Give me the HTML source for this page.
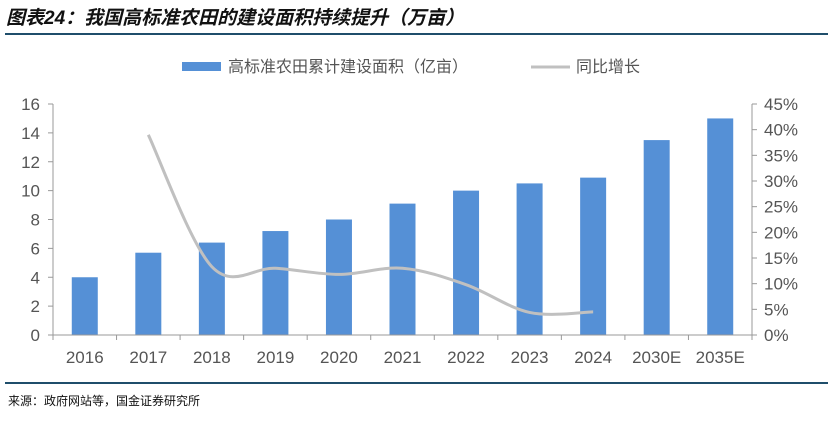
<!DOCTYPE html>
<html><head><meta charset="utf-8"><style>
body{margin:0;background:#fff;width:831px;height:416px;overflow:hidden;font-family:"Liberation Sans","Noto Sans CJK SC",sans-serif}
</style></head><body>
<svg id="c" width="831" height="416" xmlns="http://www.w3.org/2000/svg">
<text x="6" y="24" font-size="19" font-weight="bold" font-style="italic" fill="#111" font-family="Liberation Sans,Noto Sans CJK SC,sans-serif">图表24：我国高标准农田的建设面积持续提升（万亩）</text>
<line x1="5" y1="34" x2="828" y2="34" stroke="#1f4e6b" stroke-width="2"/>
<rect x="182" y="62" width="39" height="9" fill="#5590d6"/>
<text x="228" y="72" font-size="16" fill="#555">高标准农田累计建设面积（亿亩）</text>
<line x1="531" y1="67" x2="570" y2="67" stroke="#c0c0c0" stroke-width="3"/>
<text x="576" y="72" font-size="16" fill="#555">同比增长</text>
<g id="plot"></g>
<line x1="5" y1="383" x2="828" y2="383" stroke="#1f4e6b" stroke-width="2"/>
<text x="8" y="405" font-size="12" fill="#111">来源：政府网站等，国金证券研究所</text>
</svg>
<script>
const categories=["2016","2017","2018","2019","2020","2021","2022","2023","2024","2030E","2035E"];
const areaValues=[4.0,5.7,6.4,7.2,8.0,9.1,10.0,10.5,10.9,13.5,15.0];
const growthValues=[null,39,13.3,13,11.8,13,9.8,4.4,4.5,null,null];
const leftTicks=[0,2,4,6,8,10,12,14,16];
const rightTicks=[0,5,10,15,20,25,30,35,40,45];
const NS="http://www.w3.org/2000/svg";
const g=document.getElementById('plot');
const x0=53,x1=752,yB=335,yT=104;
const bw=(x1-x0)/categories.length;
const xC=i=>x0+bw*(i+0.5);
const yL=v=>yB-(v/16)*(yB-yT);
const yR=v=>yB-(v/45)*(yB-yT);
function mk(t,a){const e=document.createElementNS(NS,t);for(const k in a)e.setAttribute(k,a[k]);g.appendChild(e);return e;}
areaValues.forEach((v,i)=>{
 const r=mk('rect',{x:xC(i)-13,y:yL(v),width:26,height:yB-yL(v),fill:'#5590d6'});
 
 
});
let ax=mk('line',{x1:x0,y1:yB,x2:x1,y2:yB,stroke:'#999'});


for(let i=0;i<=categories.length;i++){const t=mk('line',{x1:x0+bw*i,y1:yB,x2:x0+bw*i,y2:yB+5,stroke:'#999'});

}
categories.forEach((c,i)=>{const t=mk('text',{x:xC(i),y:yB+28,'font-size':17,fill:'#555','text-anchor':'middle'});t.textContent=c;

});
let la=mk('line',{x1:x0,y1:yT,x2:x0,y2:yB,stroke:'#999'});


let ra=mk('line',{x1:x1,y1:yT,x2:x1,y2:yB,stroke:'#999'});


leftTicks.forEach(v=>{mk('line',{x1:x0-5,y1:yL(v),x2:x0,y2:yL(v),stroke:'#999'});
const t=mk('text',{x:x0-13,y:yL(v)+6,'font-size':17,fill:'#555','text-anchor':'end'});t.textContent=v;

});
rightTicks.forEach(v=>{mk('line',{x1:x1,y1:yR(v),x2:x1+5,y2:yR(v),stroke:'#999'});
const t=mk('text',{x:x1+12,y:yR(v)+6,'font-size':17,fill:'#555'});t.textContent=v+'%';

});
const pts=[];growthValues.forEach((v,i)=>{if(v!==null)pts.push([xC(i),yR(v)]);});
let d='M'+pts[0][0]+','+pts[0][1];
for(let i=0;i<pts.length-1;i++){const p0=pts[i-1]||pts[i],p1=pts[i],p2=pts[i+1],p3=pts[i+2]||p2;
const c1=[p1[0]+(p2[0]-p0[0])/6,p1[1]+(p2[1]-p0[1])/6],c2=[p2[0]-(p3[0]-p1[0])/6,p2[1]-(p3[1]-p1[1])/6];
d+=` C${c1[0]},${c1[1]} ${c2[0]},${c2[1]} ${p2[0]},${p2[1]}`;}
const ln=mk('path',{d:d,fill:'none',stroke:'#c0c0c0','stroke-width':3});


</script>
</body></html>
